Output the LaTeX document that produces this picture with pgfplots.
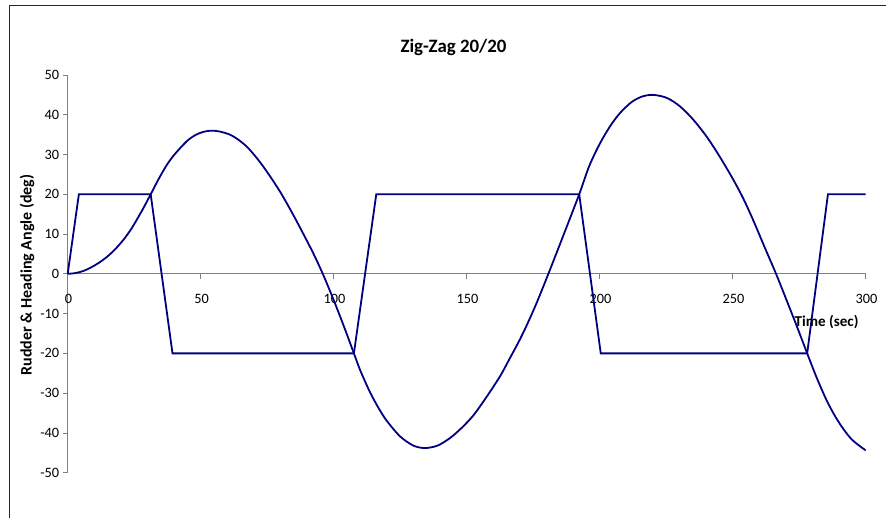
\documentclass[border=0pt]{standalone}
\usepackage{fontspec}
\setmainfont{Carlito}
\usepackage{pgfplots}
\pgfplotsset{compat=1.18}
\definecolor{navy}{HTML}{000080}
\definecolor{axgray}{HTML}{808080}
\begin{document}
\begin{tikzpicture}[x=1pt,y=1pt]
\useasboundingbox (0,0) rectangle (886,518);
\draw[line width=1.1pt, black!85] (9.2,0) -- (9.2,512.3) -- (886,512.3);
\begin{axis}[
  at={(67.7pt,45.3pt)}, anchor=south west,
  scale only axis, width=798pt, height=397.7pt,
  xmin=0, xmax=300, ymin=-50, ymax=50,
  axis x line=middle, axis y line=left,
  hide obscured x ticks=false, hide obscured y ticks=false,
  axis line style={axgray, line width=0.8pt, -},
  xtick={0,50,100,150,200,250,300},
  xticklabels={0,50,100,150,200,250,300},
  ytick={-50,-40,-30,-20,-10,0,10,20,30,40,50},
  yticklabels={-50,-40,-30,-20,-10,0,10,20,30,40,50},
  tick align=outside, major tick length=5pt,
  tick style={axgray, line width=0.8pt},
  ticklabel style={font=\fontsize{14.3}{16}\selectfont, text=black},
  xticklabel style={yshift=-12pt, xshift=0.8pt},
  clip=false,
]
\addplot[navy, line width=1.8pt] table {
t v
0 0
4.2 20
31.2 20
39.4 -20
107.6 -20
116 20
192.3 20
200.4 -20
278 -20
285.8 20
300 20
};
\addplot[navy, line width=1.8pt, smooth] table {
t v
0 0
3 0.2
6 0.75
9 1.7
12 2.9
15 4.4
18 6.3
21 8.6
24 11.4
27 14.8
29 17.2
31.2 20
34 23.6
37 27.1
40 29.9
44.7 33.3
48 34.9
51 35.7
54 36.0
57 35.8
61 35.0
64 33.8
67.3 32.0
70.5 29.6
73.5 27.0
76.5 24.1
79.8 20.7
83 17.0
86.1 13.2
89 9.5
92.3 5.2
95.9 0
100 -6.6
104 -13.5
107.6 -20
110 -24.3
113.6 -29.7
117 -33.9
120 -37.0
125 -40.9
130 -43.2
134.3 -43.8
139 -43.2
143.7 -41.3
148 -38.8
152.5 -35.6
157 -31.4
162.5 -25.8
166 -21.5
170 -16.5
173 -12.3
176.3 -7.3
180.7 0
186.3 9.6
192.3 20
196 27.0
200.1 32.8
204 37.2
207.6 40.4
212 43.2
216 44.6
219.5 45.0
223 44.7
226 44.0
230.2 42.1
235 38.9
240.2 34.5
245 29.6
250.2 23.7
254 18.9
257.7 13.5
262 6.7
266.3 0
270 -6.2
274 -13.0
278 -20
281.5 -26.0
285.3 -31.8
288.5 -35.8
291.6 -39.0
295 -41.8
300 -44.4
};
\end{axis}
\node[font=\bfseries\fontsize{18.9}{21}\selectfont] at (453.5,471) {Zig-Zag 20/20};
\node[font=\bfseries\fontsize{15.1}{17}\selectfont, anchor=east] at (862,196) {Time (sec)};
\node[font=\bfseries\fontsize{16}{18}\selectfont, rotate=90] at (27,243) {Rudder \& Heading Angle (deg)};
\end{tikzpicture}
\end{document}
